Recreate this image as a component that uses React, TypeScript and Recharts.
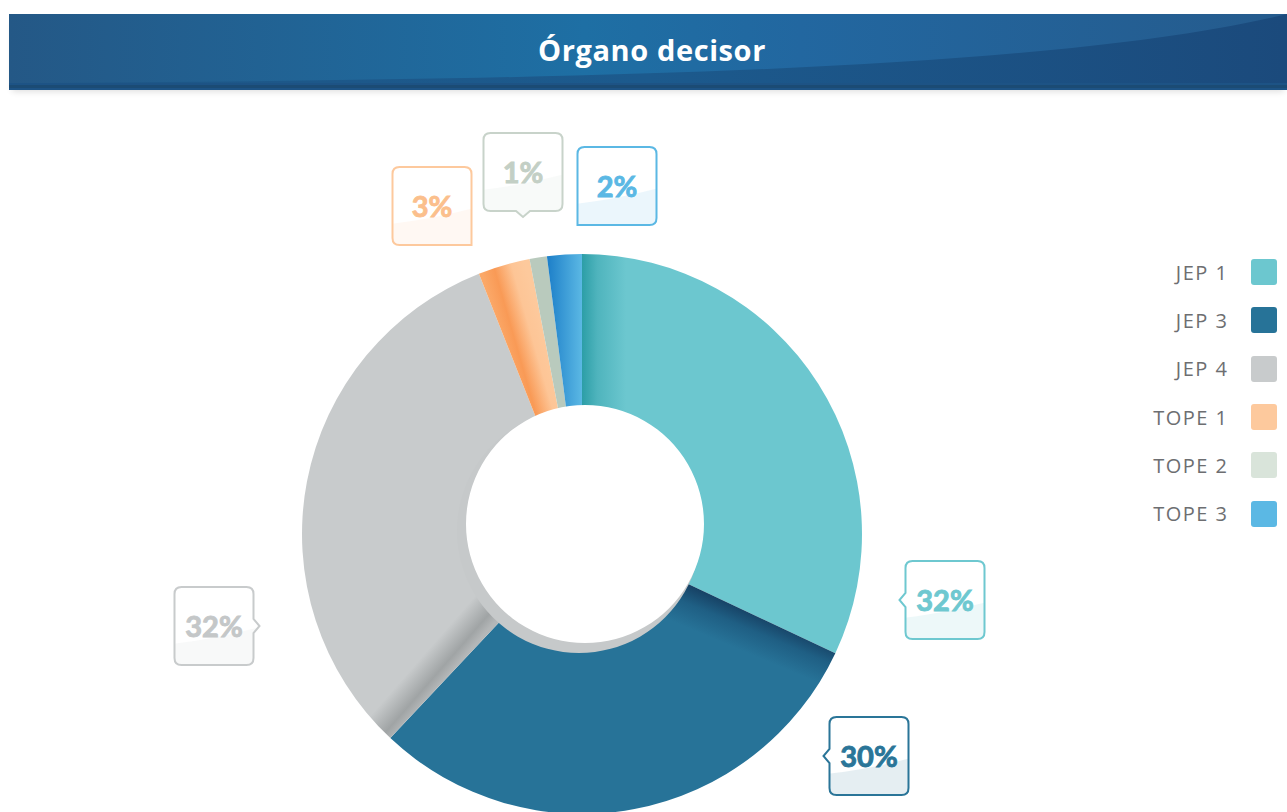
import React from "react";
import { Cell, Legend, Pie, PieChart } from "recharts";

const categories = ["JEP 1", "JEP 3", "JEP 4", "TOPE 1", "TOPE 2", "TOPE 3"];
const shares = [32, 30, 32, 3, 1, 2];

const swatchColors = ["#6cc7cf", "#277398", "#c8cbcc", "#fdc99d", "#d9e4da", "#5bb8e4"];
const sliceFills = ["url(#gJep1)", "url(#gJep3)", "url(#gJep4)", "url(#gTope1)", "#b9cabd", "url(#gTope3)"];
const labelColors = ["#6ec8d0", "#2a7598", "#c8cbcc", "#fdc99d", "#c8d3ca", "#5bb8e4"];
const labelTextColors = ["#6ec8d0", "#2a7598", "#c4c7c8", "#fbbf8c", "#c3cfc5", "#5bb8e4"];

// callout placement relative to the pie centre, and where the pointer sits
const callouts = [
  { dx: 363, dy: 66, kind: "left" },
  { dx: 287, dy: 222, kind: "left" },
  { dx: -368, dy: 92, kind: "right" },
  { dx: -150, dy: -328, kind: "br" },
  { dx: -59, dy: -362, kind: "bottom" },
  { dx: 35, dy: -348, kind: "bl" },
];

const data = categories.map((name, i) => ({ name, value: shares[i] }));
const hole = [{ name: "hole", value: 1 }];

function boxPath(x: number, y: number, w: number, h: number, kind: string) {
  const r = 7;
  const p = 6;
  const mx = x + w / 2;
  const my = y + h / 2;
  // top edge + top-right corner
  let d = `M${x + r},${y} H${x + w - r} Q${x + w},${y} ${x + w},${y + r}`;
  // right edge
  if (kind === "right") d += ` V${my - 7} L${x + w + p},${my} L${x + w},${my + 7}`;
  // bottom-right corner
  if (kind === "br") d += ` V${y + h}`;
  else d += ` V${y + h - r} Q${x + w},${y + h} ${x + w - r},${y + h}`;
  // bottom edge
  if (kind === "bottom") d += ` H${mx + 7} L${mx},${y + h + p} L${mx - 7},${y + h}`;
  // bottom-left corner
  if (kind === "bl") d += ` H${x}`;
  else d += ` H${x + r} Q${x},${y + h} ${x},${y + h - r}`;
  // left edge
  if (kind === "left") d += ` V${my + 7} L${x - p},${my} L${x},${my - 7}`;
  // top-left corner
  d += ` V${y + r} Q${x},${y} ${x + r},${y} Z`;
  return d;
}

function CalloutLabel(props: any) {
  const { cx, cy, index, value } = props;
  const c = callouts[index];
  if (!c) return null;
  const w = 79;
  const h = 78;
  const bx = cx + c.dx - w / 2;
  const by = cy + c.dy - h / 2;
  const d = boxPath(bx, by, w, h, c.kind);
  const id = `clip-${index}`;
  return (
    <g>
      <defs>
        <clipPath id={id}>
          <path d={d} />
        </clipPath>
      </defs>
      <path d={d} fill="#ffffff" />
      <path
        clipPath={`url(#${id})`}
        d={`M${bx - 10},${by + h * 0.74} Q${bx + w * 0.5},${by + h * 0.68} ${bx + w + 10},${by + h * 0.5} V${by + h + 10} H${bx - 10} Z`}
        fill={labelColors[index]}
        fillOpacity={0.12}
      />
      <path d={d} fill="none" stroke={labelColors[index]} strokeWidth={2} />
      <text
        x={bx + w / 2}
        y={by + h / 2 - 1}
        textAnchor="middle"
        dominantBaseline="central"
        fill={labelTextColors[index]}
        stroke={labelTextColors[index]}
        strokeWidth={0.9}
        style={{ fontFamily: "Lato, sans-serif", fontWeight: 700, fontSize: 29 }}
      >
        {`${value}%`}
      </text>
    </g>
  );
}

function LegendList(props: any) {
  const items = (props.payload || []).filter((p: any) => categories.includes(p.value));
  return (
    <div>
      {items.map((p: any) => (
        <div
          key={p.value}
          style={{ height: 48.3, display: "flex", alignItems: "center", justifyContent: "flex-end" }}
        >
          <span
            style={{
              fontFamily: '"Open Sans", sans-serif',
              fontSize: 20,
              color: "#6d6e71",
              letterSpacing: 1.5,
              marginRight: 22.5,
            }}
          >
            {p.value}
          </span>
          <span
            style={{
              width: 26,
              height: 26,
              borderRadius: 3,
              background: swatchColors[categories.indexOf(p.value)],
              marginRight: 10,
            }}
          />
        </div>
      ))}
    </div>
  );
}

function Header() {
  return (
    <div
      style={{
        position: "absolute",
        left: 9,
        top: 14,
        width: 1278,
        height: 76,
        boxShadow: "0 5px 6px -3px rgba(0,0,0,0.12)",
      }}
    >
      <svg width={1278} height={76} style={{ display: "block" }}>
        <defs>
          <linearGradient id="hdrTop" x1="0" y1="0" x2="1" y2="0">
            <stop offset="0" stopColor="#245886" />
            <stop offset="0.45" stopColor="#1e6fa4" />
            <stop offset="0.62" stopColor="#2267a0" />
            <stop offset="1" stopColor="#255b8d" />
          </linearGradient>
          <linearGradient id="hdrLow" x1="0" y1="0" x2="1" y2="0">
            <stop offset="0" stopColor="#1e5686" />
            <stop offset="0.5" stopColor="#1c5a8d" />
            <stop offset="1" stopColor="#1b4a7c" />
          </linearGradient>
        </defs>
        <rect x={0} y={0} width={1278} height={76} fill="url(#hdrTop)" />
        <path d="M0,69 C600,66 1050,55 1278,0 V76 H0 Z" fill="url(#hdrLow)" />
        <rect x={0} y={69} width={1278} height={7} fill="#1d5385" />
        <rect x={0} y={71} width={1278} height={3} fill="#1c4a6f" opacity={0.8} />
        <text
          x={643}
          y={35}
          textAnchor="middle"
          dominantBaseline="central"
          fill="#ffffff"
          style={{ fontFamily: '"Open Sans", sans-serif', fontWeight: 700, fontSize: 29, letterSpacing: 0.6 }}
        >
          Órgano decisor
        </text>
      </svg>
    </div>
  );
}

export default function App() {
  return (
    <div style={{ position: "absolute", left: 0, top: 0, width: 1287, height: 812, overflow: "hidden", background: "#fff" }}>
      <Header />
      <div style={{ position: "absolute", left: 0, top: 0 }}>
        <PieChart width={1287} height={812} margin={{ top: 0, right: 0, bottom: 0, left: 0 }}>
          <defs>
            <linearGradient id="gJep1" gradientUnits="userSpaceOnUse" x1="582" y1="0" x2="626" y2="0">
              <stop offset="0" stopColor="#2c9ea7" />
              <stop offset="0.35" stopColor="#4fb4bd" />
              <stop offset="1" stopColor="#6cc7cf" />
            </linearGradient>
            <linearGradient id="gJep3" gradientUnits="userSpaceOnUse" x1="818" y1="638" x2="802" y2="676">
              <stop offset="0" stopColor="#163f62" />
              <stop offset="0.45" stopColor="#1f5f84" />
              <stop offset="1" stopColor="#277398" />
            </linearGradient>
            <linearGradient id="gJep4" gradientUnits="userSpaceOnUse" x1="444" y1="680" x2="420" y2="659">
              <stop offset="0" stopColor="#b4b7b8" />
              <stop offset="0.3" stopColor="#a0a4a5" />
              <stop offset="1" stopColor="#c8cbcc" />
            </linearGradient>
            <linearGradient id="gTope1" gradientUnits="userSpaceOnUse" x1="504" y1="350" x2="546" y2="338">
              <stop offset="0" stopColor="#fba868" />
              <stop offset="0.3" stopColor="#f99a56" />
              <stop offset="0.7" stopColor="#fdc596" />
              <stop offset="1" stopColor="#fdc99c" />
            </linearGradient>
            <linearGradient id="gTope3" gradientUnits="userSpaceOnUse" x1="548" y1="0" x2="582" y2="0">
              <stop offset="0" stopColor="#1e80c9" />
              <stop offset="1" stopColor="#5bb8e4" />
            </linearGradient>
          </defs>
          <Pie
            data={data}
            dataKey="value"
            nameKey="name"
            cx={582}
            cy={534}
            innerRadius={105}
            outerRadius={280}
            startAngle={90}
            endAngle={-270}
            stroke="none"
            label={CalloutLabel}
            labelLine={false}
            isAnimationActive={false}
          >
            {data.map((d, i) => (
              <Cell key={d.name} fill={sliceFills[i]} />
            ))}
          </Pie>
          <Pie
            data={hole}
            dataKey="value"
            cx={579}
            cy={531}
            outerRadius={122}
            innerRadius={0}
            fill="#c6c9ca"
            stroke="none"
            legendType="none"
            isAnimationActive={false}
          />
          <Pie
            data={hole}
            dataKey="value"
            cx={585}
            cy={524}
            outerRadius={119}
            innerRadius={0}
            fill="#ffffff"
            stroke="none"
            legendType="none"
            isAnimationActive={false}
          />
          <Legend
            layout="vertical"
            align="right"
            verticalAlign="top"
            content={LegendList}
            wrapperStyle={{ position: "absolute", top: 248, left: 1000, width: 287 }}
          />
        </PieChart>
      </div>
    </div>
  );
}
